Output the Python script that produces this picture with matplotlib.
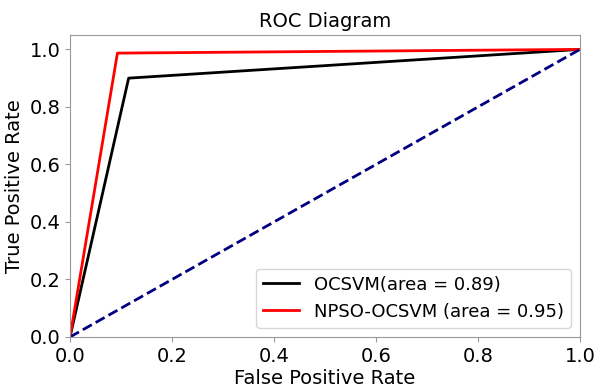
import matplotlib
matplotlib.use("Agg")
import matplotlib.pyplot as plt

# ROC points
fpr_ocsvm = [0.0, 0.115, 1.0]
tpr_ocsvm = [0.0, 0.90, 1.0]
fpr_npso = [0.0, 0.093, 1.0]
tpr_npso = [0.0, 0.987, 1.0]
diag = [0.0, 1.0]

label_ocsvm = "OCSVM(area = 0.89)"
label_npso = "NPSO-OCSVM (area = 0.95)"

plt.rcParams["font.size"] = 14

fig = plt.figure(figsize=(5.99, 3.84), dpi=100)
ax = fig.add_axes([70 / 599, 47 / 384, 510 / 599, 302 / 384])

ax.plot(fpr_ocsvm, tpr_ocsvm, color="black", lw=2, label=label_ocsvm)
ax.plot(fpr_npso, tpr_npso, color="red", lw=2, label=label_npso)
ax.plot(diag, diag, color="navy", lw=2, linestyle="--")

ax.set_xlim(0.0, 1.0)
ax.set_ylim(0.0, 1.05)
ax.set_xlabel("False Positive Rate", labelpad=2)
ax.set_ylabel("True Positive Rate")
ax.set_title("ROC Diagram", fontsize=14)
for sp in ax.spines.values():
    sp.set_color("#999999")
ax.tick_params(color="#999999")
ax.legend(loc="lower right", fontsize=13)

fig.savefig("out.png", dpi=100)
